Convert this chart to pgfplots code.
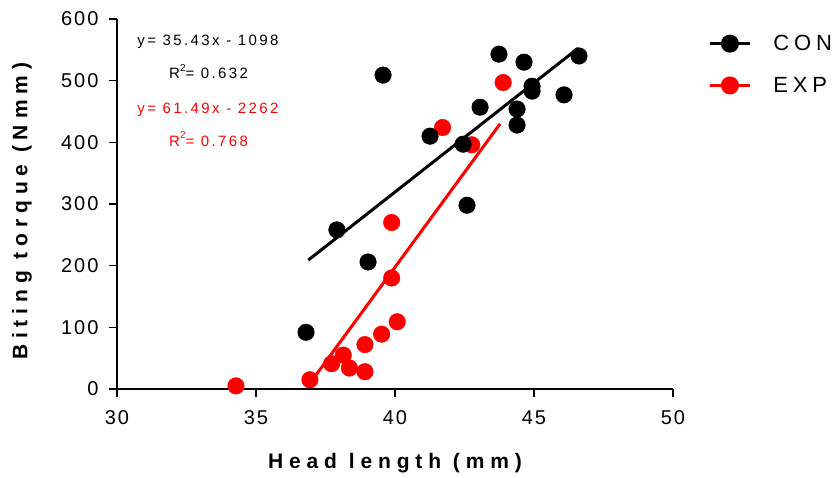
\documentclass[border=0pt]{standalone}
\usepackage{pgfplots}
\pgfplotsset{compat=1.18}
\usepackage{fontspec}
\setmainfont{Liberation Sans}
\newfontfamily\tickfont[LetterSpace=10]{Liberation Sans}
\newfontfamily\labfont[LetterSpace=28]{Liberation Sans}
\newfontfamily\annfont[LetterSpace=16]{Liberation Sans}
\newfontfamily\legfont[LetterSpace=22]{Liberation Sans}
\definecolor{myred}{RGB}{255,0,0}
\newcommand{\sqr}{\raisebox{0.5em}{\fontsize{10bp}{10bp}\selectfont 2}}

\pgfplotstableread{
x y
36.80 92
37.91 258
39.03 206
39.57 509
41.26 410
42.45 397
42.59 298
43.06 457
43.74 543
44.39 454
44.39 428
44.64 530
44.93 491
44.93 483
46.08 477
46.62 540
}\con

\pgfplotstableread{
x y
34.28 5
36.94 15
37.72 41
38.14 55
38.36 34
38.92 72
38.92 28
39.52 89
40.08 109
39.88 180
39.88 270
41.71 424
42.76 396
43.89 497
}\exper

\begin{document}
\begin{tikzpicture}
\begin{axis}[
  scale only axis,
  width=556bp, height=370bp,
  xmin=30, xmax=50, ymin=0, ymax=600,
  axis lines=left,
  axis line style={-, line width=1.6bp},
  xtick={30,35,40,45,50},
  ytick={0,100,200,300,400,500,600},
  tick style={line width=1.6bp, black},
  major tick length=8bp,
  tick align=outside,
  /pgf/number format/assume math mode=true,
  ticklabel style={font=\tickfont\fontsize{20bp}{22bp}\selectfont},
  xticklabel style={yshift=-10bp},
  yticklabel style={xshift=-7bp},
  xlabel={Head length (mm)},
  ylabel={Biting torque (Nmm)},
  xlabel style={at={(axis description cs:0.5,0)}, anchor=center, yshift=-74bp, font=\labfont\bfseries\fontsize{21bp}{23bp}\selectfont},
  ylabel style={at={(axis description cs:0,0.48)}, anchor=center, rotate=0, yshift=95bp, font=\labfont\bfseries\fontsize{21bp}{23bp}\selectfont},
  clip=false,
  legend style={at={(1.058,0.962)}, anchor=north west, draw=none, fill=none,
    font=\legfont\fontsize{22bp}{24bp}\selectfont, row sep=25bp, column sep=22bp,
    nodes={inner sep=0pt}, cells={anchor=west}},
  legend image code/.code={\draw[mark repeat=2,mark phase=2,#1] plot coordinates {(0bp,0bp) (20bp,0bp) (40bp,0bp)};},
]
\addlegendimage{black, line width=3bp, mark=*, mark size=7.5bp, mark options={solid}}
\addlegendentry{CON}
\addlegendimage{myred, line width=3bp, mark=*, mark size=7.5bp, mark options={solid}}
\addlegendentry{EXP}
\addplot[only marks, mark=*, mark size=8.3bp, myred, forget plot] table[x=x,y=y] {\exper};
\addplot[only marks, mark=*, mark size=8.3bp, black, forget plot] table[x=x,y=y] {\con};
\addplot[black, line width=3bp, forget plot] coordinates {(36.88,209) (46.59,552.7)};
\addplot[myred, line width=3bp, forget plot] coordinates {(36.83,2.6) (43.78,430)};
\node[anchor=west, font=\annfont\fontsize{15bp}{17bp}\selectfont] at (axis cs:30.61,562.7) {y= 35.43x - 1098};
\node[anchor=west, font=\annfont\fontsize{15bp}{17bp}\selectfont] at (axis cs:31.75,514.5) {R\sqr= 0.632};
\node[anchor=west, font=\annfont\fontsize{15bp}{17bp}\selectfont, text=myred] at (axis cs:30.61,453.5) {y= 61.49x - 2262};
\node[anchor=west, font=\annfont\fontsize{15bp}{17bp}\selectfont, text=myred] at (axis cs:31.75,405) {R\sqr= 0.768};
\end{axis}
\pgfresetboundingbox
\path (-117bp,-89bp) rectangle (719bp,389bp);
\end{tikzpicture}
\end{document}
